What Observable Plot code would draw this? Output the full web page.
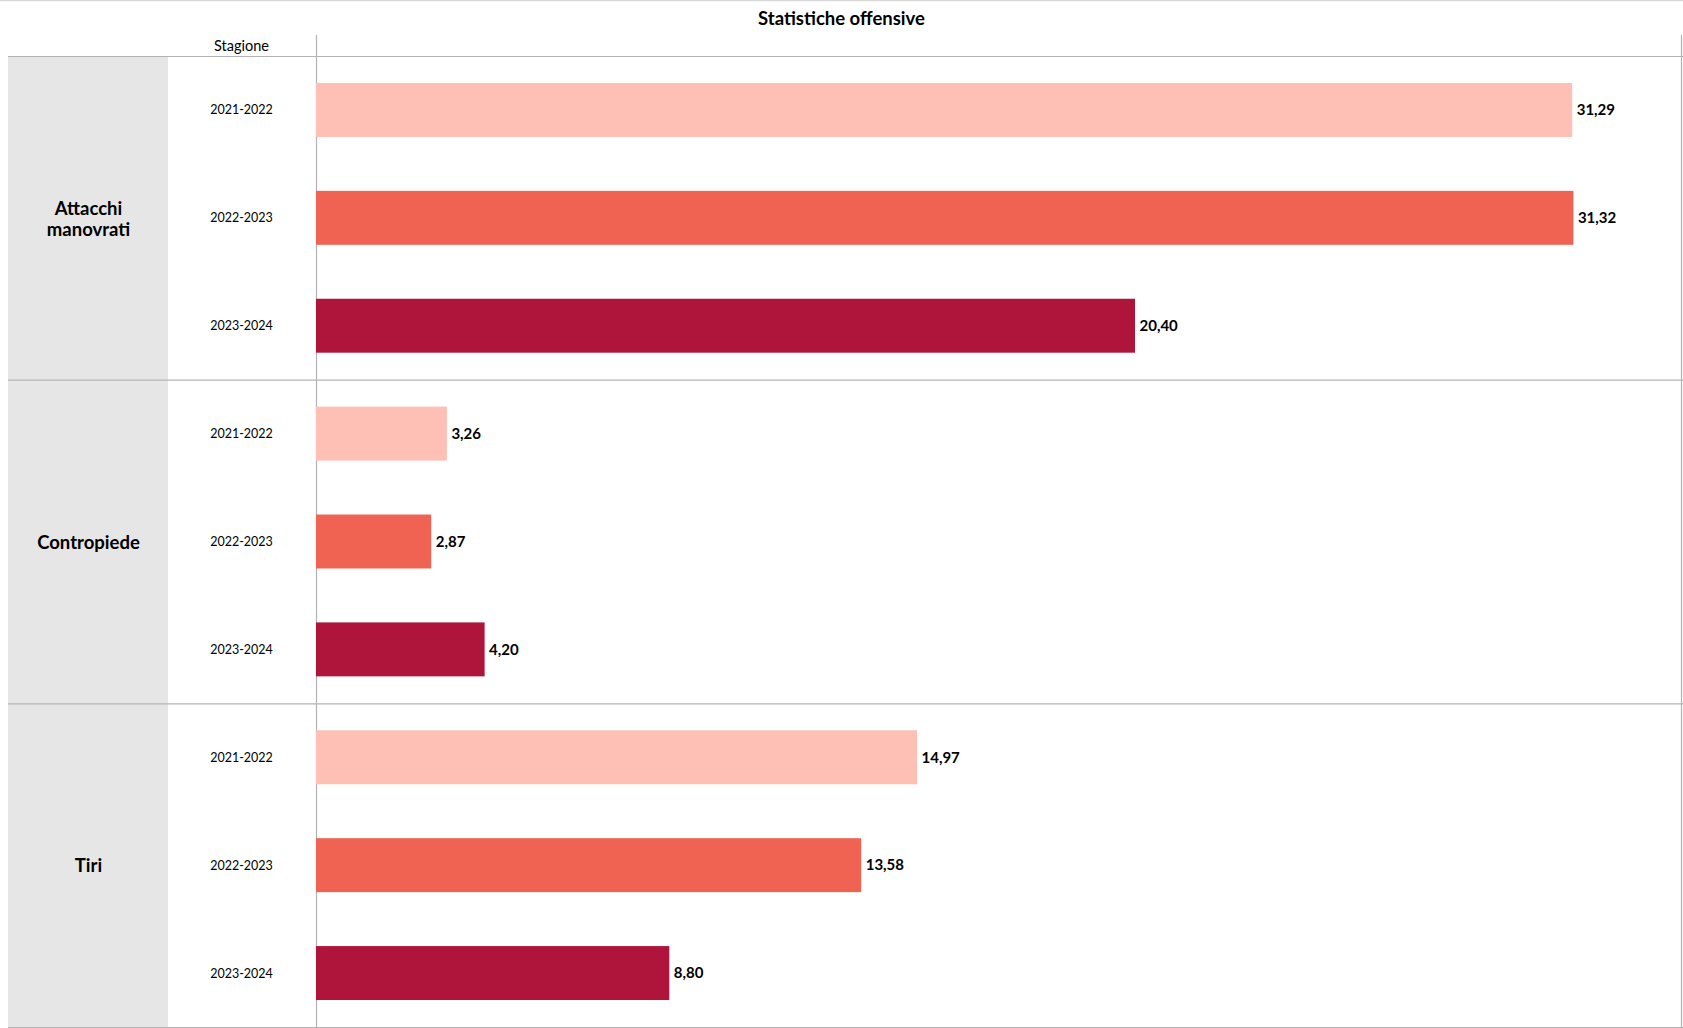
<!DOCTYPE html>
<html><head><meta charset="utf-8">
<script src="https://cdn.jsdelivr.net/npm/d3@7"></script>
<script src="https://cdn.jsdelivr.net/npm/@observablehq/plot@0.6"></script>
<style>body{margin:0;background:#fff} svg{display:block}</style>
</head><body><div id="chart"></div>
<script>
const title = "Statistiche offensive";
const axisLabel = "Stagione";
const groups = ["Attacchi\nmanovrati", "Contropiede", "Tiri"];
const seasons = ["2021-2022", "2022-2023", "2023-2024"];
const valuesAttacchi = [31.29, 31.32, 20.40];
const valuesContropiede = [3.26, 2.87, 4.20];
const valuesTiri = [14.97, 13.58, 8.80];
const colors = ["#FEBFB4", "#F06352", "#AF143B"];

const seriesValues = [valuesAttacchi, valuesContropiede, valuesTiri];
const rows = groups.flatMap((g, gi) => seasons.map((s, si) => ({
  group: g, season: s, value: seriesValues[gi][si], row: gi * seasons.length + si
})));
const groupRows = groups.map((g, gi) => ({
  group: g, first: gi * seasons.length, last: gi * seasons.length + seasons.length - 1,
  mid: gi * seasons.length + (seasons.length - 1) / 2
}));
const boundaries = [-0.5, ...groupRows.map(d => d.last + 0.5)];
const fmt = v => v.toFixed(2).replace(".", ",");

const W = 1683, H = 1028;
const panelX = 8, panelW = 160;

function panel(index, scales, values, dims) {
  const g = d3.create("svg:g");
  for (const d of groupRows) {
    const y1 = scales.y(d.first - 0.5), y2 = scales.y(d.last + 0.5);
    g.append("rect").attr("x", panelX).attr("y", y1).attr("width", panelW).attr("height", y2 - y1).attr("fill", "#e6e6e6");
  }
  g.append("line").attr("x1", 0).attr("x2", dims.width).attr("y1", 0.5).attr("y2", 0.5).attr("stroke", "#d9d9d9").attr("stroke-width", 1.5);
  g.append("text").attr("x", dims.width / 2).attr("y", 20.5).attr("text-anchor", "middle").attr("dominant-baseline", "middle")
    .attr("font-weight", "bold").attr("font-size", 18.5).attr("fill", "#000").text(title);
  return g.node();
}

const plot = Plot.plot({
  width: W, height: H,
  marginLeft: 316, marginRight: 2, marginTop: 56, marginBottom: 1,
  style: {fontFamily: "Lato, 'Open Sans', sans-serif", background: "#fff", color: "#000"},
  x: {domain: [0, 34], axis: null},
  y: {domain: [-0.5, rows.length - 0.5], reverse: true, axis: null},
  color: {domain: seasons, range: colors},
  marks: [
    panel,
    Plot.ruleY(boundaries, {y: d => d, stroke: "#b3b3b3", strokeWidth: 1.2, insetLeft: -308, insetRight: -2}),
    Plot.ruleX([0, 34], {stroke: "#b3b3b3", strokeWidth: 1.2, insetTop: -21}),
    Plot.rect(rows, {x1: 0, x2: "value", y1: d => d.row - 0.25, y2: d => d.row + 0.25, fill: "season"}),
    Plot.text(rows, {x: "value", y: "row", text: d => fmt(d.value), dx: 4, textAnchor: "start", fontWeight: "bold", fontSize: 15, fill: "#000"}),
    Plot.text(rows, {y: "row", text: "season", frameAnchor: "left", dx: -75, textAnchor: "middle", fontSize: 12.5, fill: "#000"}),
    Plot.text(groupRows, {y: "mid", text: "group", frameAnchor: "left", dx: -228, textAnchor: "middle", fontWeight: "bold", fontSize: 18.5, lineHeight: 1.15, fill: "#000"}),
    Plot.text([axisLabel], {frameAnchor: "top-left", lineAnchor: "middle", dx: -75, dy: -10, textAnchor: "middle", fontSize: 14.5, fill: "#000"})
  ]
});
document.getElementById("chart").append(plot);
</script>
</body></html>
